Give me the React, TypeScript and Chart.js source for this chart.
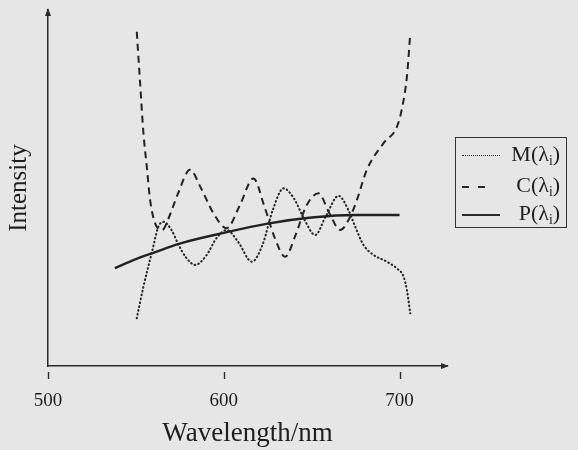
import React, { useEffect, useRef } from "react";
import { Chart, registerables } from "chart.js";

Chart.register(...registerables);

// ---- data ----
const xTicks = [500, 600, 700];

const mX = [550.5, 554.3, 559.0, 562.8, 565.8, 570.5, 574.0, 578.5, 583.7, 590, 596, 601.7, 608, 616, 622, 628, 634, 640, 646, 652, 658, 665.3, 671, 674.8, 679.5, 685.2, 692.8, 698.5, 702.3, 704.2, 706.1];
const mY = [13.4, 22.3, 31.7, 39.1, 40.5, 38.0, 34.3, 30.5, 28.4, 31, 36, 38.2, 35, 29.3, 34, 44, 49.9, 47, 41, 36.8, 42, 47.8, 43.7, 39.1, 34.0, 31.2, 29.3, 27.4, 25.1, 21.3, 14.8];

const cX = [550.5, 552.4, 554.3, 556.2, 558.1, 561, 564.9, 569, 574, 580.8, 587, 594, 601.7, 609, 616.9, 623, 629, 634.9, 641, 647, 653.9, 660, 666.2, 672, 675.7, 681.4, 690.9, 698.5, 701.4, 704.2, 706.1];
const cY = [93.9, 79.5, 65.4, 56.0, 46.6, 40.0, 38.2, 42, 48.5, 55.1, 50, 43, 38.7, 45, 52.7, 45, 36, 30.7, 37, 45, 48.5, 43, 38.2, 42, 46.6, 55.1, 62.6, 67.2, 72.4, 81.3, 93.4];

const pX = [538, 550, 560, 575, 600, 625, 650, 675, 700];
const pY = [27.5, 30.0, 31.8, 34.4, 37.4, 40.0, 41.7, 42.4, 42.4];

const seriesLabels = ["M", "C", "P"];

const SERIF = '"Liberation Serif", "Times New Roman", "DejaVu Serif", serif';
const INK = "#1e1e1e";

const toPts = (xs: number[], ys: number[]) => xs.map((x, i) => ({ x, y: ys[i] }));

const axisDecor = {
  id: "axisDecor",
  afterDraw(chart: any) {
    const { ctx, chartArea, scales } = chart;
    const { left, right, top, bottom } = chartArea;
    const x = scales.x;
    ctx.save();
    ctx.strokeStyle = "#2a2a2a";
    ctx.fillStyle = "#2a2a2a";
    ctx.lineWidth = 1.4;
    xTicks.forEach((v) => {
      const px = Math.round(x.getPixelForValue(v)) + 0.5;
      ctx.beginPath();
      ctx.moveTo(px, bottom + 6);
      ctx.lineTo(px, bottom + 13);
      ctx.stroke();
    });
    // x arrow
    ctx.beginPath();
    ctx.moveTo(right + 2, bottom);
    ctx.lineTo(right - 6, bottom - 3);
    ctx.lineTo(right - 6, bottom + 3);
    ctx.closePath();
    ctx.fill();
    // y arrow
    ctx.beginPath();
    ctx.moveTo(left, top - 2);
    ctx.lineTo(left - 3, top + 6);
    ctx.lineTo(left + 3, top + 6);
    ctx.closePath();
    ctx.fill();
    ctx.restore();
  },
};

function LegendRow({ top, label, kind }: { top: number; label: string; kind: string }) {
  let sample: any;
  if (kind === "dotted") {
    sample = <div style={{ position: "absolute", left: 6, top, width: 38, borderTop: "1.6px dotted #2a2a2a" }} />;
  } else if (kind === "dashed") {
    sample = (
      <>
        <div style={{ position: "absolute", left: 6, top, width: 7, borderTop: "2px solid #2a2a2a" }} />
        <div style={{ position: "absolute", left: 22, top, width: 7, borderTop: "2px solid #2a2a2a" }} />
      </>
    );
  } else {
    sample = <div style={{ position: "absolute", left: 6, top, width: 38, borderTop: "2px solid #2a2a2a" }} />;
  }
  return (
    <>
      {sample}
      <div
        style={{
          position: "absolute",
          right: 6,
          top: top - 14,
          fontFamily: SERIF,
          fontSize: 22,
          lineHeight: "26px",
          color: INK,
          whiteSpace: "nowrap",
        }}
      >
        {label}(λ<sub style={{ fontSize: "0.62em", verticalAlign: "-0.3em", lineHeight: 0 }}>i</sub>)
      </div>
    </>
  );
}

export default function App() {
  const ref = useRef<HTMLCanvasElement>(null);
  useEffect(() => {
    const chart = new Chart(ref.current!, {
      type: "line",
      data: {
        datasets: [
          {
            label: seriesLabels[0],
            data: toPts(mX, mY),
            borderColor: "#262626",
            borderWidth: 2.1,
            borderDash: [0.6, 3.3],
            borderCapStyle: "round",
            pointRadius: 0,
            cubicInterpolationMode: "monotone",
            fill: false,
          },
          {
            label: seriesLabels[1],
            data: toPts(cX, cY),
            borderColor: "#222222",
            borderWidth: 2,
            borderDash: [7, 5],
            pointRadius: 0,
            cubicInterpolationMode: "monotone",
            fill: false,
          },
          {
            label: seriesLabels[2],
            data: toPts(pX, pY),
            borderColor: "#222222",
            borderWidth: 2.4,
            pointRadius: 0,
            cubicInterpolationMode: "monotone",
            fill: false,
          },
        ],
      },
      options: {
        animation: false,
        responsive: false,
        maintainAspectRatio: false,
        layout: { padding: { left: 0, top: 10, right: 131, bottom: 0 } },
        plugins: { legend: { display: false }, tooltip: { enabled: false } },
        scales: {
          x: {
            type: "linear",
            min: 500,
            max: 727,
            afterBuildTicks: (s: any) => {
              s.ticks = xTicks.map((v) => ({ value: v }));
            },
            afterFit: (s: any) => {
              s.height = 84;
            },
            grid: { display: false, drawTicks: false },
            border: { display: true, color: "#2a2a2a", width: 1.5 },
            ticks: {
              font: { family: SERIF, size: 19 },
              color: INK,
              padding: 24,
              autoSkip: false,
              maxRotation: 0,
            },
            title: {
              display: true,
              text: "Wavelength/nm",
              font: { family: SERIF, size: 27 },
              color: INK,
              padding: { top: 0, bottom: 0 },
            },
          },
          y: {
            type: "linear",
            min: 0,
            max: 100,
            afterFit: (s: any) => {
              s.width = 48;
            },
            ticks: { display: false },
            grid: { display: false, drawTicks: false },
            border: { display: true, color: "#2a2a2a", width: 1.5 },
            title: {
              display: true,
              text: "Intensity",
              font: { family: SERIF, size: 25 },
              color: INK,
              padding: { top: 4, bottom: 0 },
            },
          },
        },
      } as any,
      plugins: [axisDecor],
    });
    return () => chart.destroy();
  }, []);

  return (
    <div
      style={{
        position: "fixed",
        left: 0,
        top: 0,
        width: 578,
        height: 450,
        background: "#e6e6e6",
        overflow: "hidden",
      }}
    >
      <canvas ref={ref} width={578} height={450} style={{ position: "absolute", left: 0, top: 0, width: 578, height: 450 }} />
      <div
        style={{
          position: "absolute",
          left: 455,
          top: 137,
          width: 112,
          height: 91,
          border: "1.5px solid #333",
          boxSizing: "border-box",
        }}
      >
        <LegendRow top={17} label="M" kind="dotted" />
        <LegendRow top={48} label="C" kind="dashed" />
        <LegendRow top={76} label="P" kind="solid" />
      </div>
    </div>
  );
}
